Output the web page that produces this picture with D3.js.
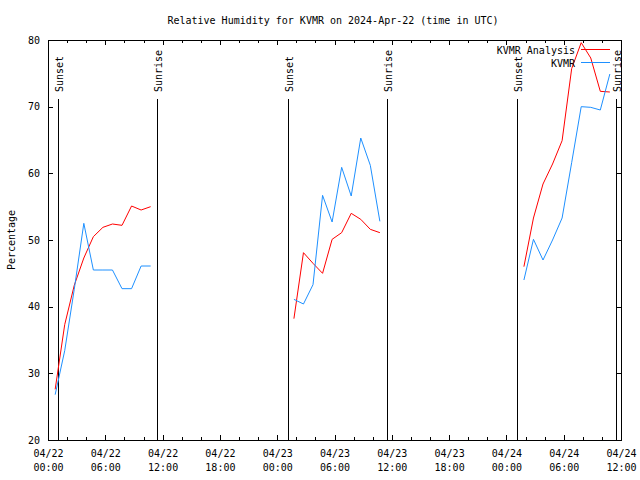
<!DOCTYPE html>
<html>
<head>
<meta charset="utf-8">
<script src="https://cdn.jsdelivr.net/npm/d3@7"></script>
<style>
  body { margin: 0; background: #fff; }
  svg text { font-family: "DejaVu Sans Mono", monospace; font-size: 10px; fill: #000; }
</style>
</head>
<body>
<svg id="chart" width="640" height="480"></svg>
<script>
// ---- data ----
const times1 = ["2024-04-22T00:45Z","2024-04-22T01:45Z","2024-04-22T02:45Z","2024-04-22T03:45Z","2024-04-22T04:45Z","2024-04-22T05:45Z","2024-04-22T06:45Z","2024-04-22T07:45Z","2024-04-22T08:45Z","2024-04-22T09:45Z","2024-04-22T10:45Z"];
const analysis1 = [27.6, 37.3, 43.2, 47.3, 50.5, 51.9, 52.4, 52.2, 55.1, 54.5, 55.0];
const observed1 = [26.8, 33.4, 42.6, 52.5, 45.5, 45.5, 45.5, 42.7, 42.7, 46.1, 46.1];

const times2 = ["2024-04-23T01:45Z","2024-04-23T02:45Z","2024-04-23T03:45Z","2024-04-23T04:45Z","2024-04-23T05:45Z","2024-04-23T06:45Z","2024-04-23T07:45Z","2024-04-23T08:45Z","2024-04-23T09:45Z","2024-04-23T10:45Z"];
const analysis2 = [38.2, 48.1, 46.5, 45.0, 50.1, 51.1, 54.0, 53.1, 51.6, 51.1];
const observed2 = [41.1, 40.4, 43.3, 56.7, 52.7, 60.9, 56.6, 65.3, 61.2, 52.8];

const times3 = ["2024-04-24T01:50Z","2024-04-24T02:50Z","2024-04-24T03:50Z","2024-04-24T04:50Z","2024-04-24T05:50Z","2024-04-24T06:50Z","2024-04-24T07:50Z","2024-04-24T08:50Z","2024-04-24T09:50Z","2024-04-24T10:50Z"];
const analysis3 = [46.0, 53.3, 58.4, 61.4, 64.9, 75.7, 79.6, 77.3, 72.3, 72.2];
const observed3 = [44.0, 50.1, 47.0, 50.0, 53.3, 61.6, 70.0, 69.9, 69.5, 74.9];

const sunTimes  = ["2024-04-22T01:05Z","2024-04-22T11:25Z","2024-04-23T01:07Z","2024-04-23T11:27Z","2024-04-24T01:08Z","2024-04-24T11:29Z"];
const sunLabels = ["Sunset","Sunrise","Sunset","Sunrise","Sunset","Sunrise"];

const yTicks = [20, 30, 40, 50, 60, 70, 80];
const seriesNames = ["KVMR Analysis", "KVMR"];
const titleText = "Relative Humidity for KVMR on 2024-Apr-22 (time in UTC)";
const yLabel = "Percentage";

// ---- layout ----
const L = 48, R = 621, T = 40, B = 440;
const colors = ["#ff0000", "#1e90ff"];

const svg = d3.select("#chart");
const x = d3.scaleUtc()
  .domain([new Date("2024-04-22T00:00Z"), new Date("2024-04-24T12:00Z")])
  .range([L, R]);
const y = d3.scaleLinear().domain([20, 80]).range([B, T]);

const majorTicks = d3.utcHour.every(6).range(x.domain()[0], new Date(x.domain()[1].getTime() + 1));
const minorTicks = d3.utcHour.every(2).range(x.domain()[0], new Date(x.domain()[1].getTime() + 1))
  .filter(d => d.getUTCHours() % 6 !== 0);

const fmtDate = d3.utcFormat("%m/%d");
const fmtTime = d3.utcFormat("%H:%M");

// minor ticks bottom & top
svg.append("g").attr("transform", `translate(0,${B})`)
  .call(d3.axisBottom(x).tickValues(minorTicks).tickSize(-3).tickFormat(""))
  .call(g => g.select(".domain").remove())
  .attr("shape-rendering", "crispEdges");
svg.append("g").attr("transform", `translate(0,${T})`)
  .call(d3.axisTop(x).tickValues(minorTicks).tickSize(-3).tickFormat(""))
  .call(g => g.select(".domain").remove())
  .attr("shape-rendering", "crispEdges");

// major ticks bottom with 2-line labels
const xb = svg.append("g").attr("transform", `translate(0,${B})`)
  .call(d3.axisBottom(x).tickValues(majorTicks).tickSize(-5).tickPadding(0).tickFormat(""))
  .call(g => g.select(".domain").remove())
  .attr("shape-rendering", "crispEdges");
xb.selectAll(".tick text").each(function(d) {
  const t = d3.select(this).attr("y", null).attr("dy", null);
  t.append("tspan").attr("x", 0).attr("y", 17).text(fmtDate(d));
  t.append("tspan").attr("x", 0).attr("y", 31).text(fmtTime(d));
});
xb.selectAll("text").attr("font-family", "DejaVu Sans Mono").attr("font-size", 10).attr("fill", "#000");

svg.append("g").attr("transform", `translate(0,${T})`)
  .call(d3.axisTop(x).tickValues(majorTicks).tickSize(-5).tickFormat(""))
  .call(g => g.select(".domain").remove())
  .attr("shape-rendering", "crispEdges");

// y axes
const yl = svg.append("g").attr("transform", `translate(${L},0)`)
  .call(d3.axisLeft(y).tickValues(yTicks).tickSize(-5).tickPadding(8))
  .call(g => g.select(".domain").remove())
  .attr("shape-rendering", "crispEdges");
yl.selectAll("text").attr("font-family", "DejaVu Sans Mono").attr("font-size", 10).attr("fill", "#000");
svg.append("g").attr("transform", `translate(${R},0)`)
  .call(d3.axisRight(y).tickValues(yTicks).tickSize(-5).tickFormat(""))
  .call(g => g.select(".domain").remove())
  .attr("shape-rendering", "crispEdges");

// frame
svg.append("rect").attr("x", L + 0.5).attr("y", T + 0.5)
  .attr("width", R - L).attr("height", B - T)
  .attr("fill", "none").attr("stroke", "#000").attr("shape-rendering", "crispEdges");

// sun lines
sunTimes.forEach((s, i) => {
  const xx = Math.round(x(new Date(s))) + 0.5;
  svg.append("line").attr("x1", xx).attr("x2", xx).attr("y1", 99).attr("y2", B)
    .attr("stroke", "#000").attr("shape-rendering", "crispEdges");
  svg.append("text").attr("transform", `translate(${xx + 4},92) rotate(-90)`)
    .attr("text-anchor", "start").text(sunLabels[i]);
});

// series
const line = d3.line().x(d => x(d[0])).y(d => y(d[1]));
const segs = [[times1, analysis1, observed1], [times2, analysis2, observed2], [times3, analysis3, observed3]];
segs.forEach(([t, a, o]) => {
  const tt = t.map(s => new Date(s));
  svg.append("path").datum(tt.map((d, i) => [d, a[i]])).attr("d", line)
    .attr("fill", "none").attr("stroke", colors[0]).attr("stroke-width", 1);
  svg.append("path").datum(tt.map((d, i) => [d, o[i]])).attr("d", line)
    .attr("fill", "none").attr("stroke", colors[1]).attr("stroke-width", 1);
});

// legend
seriesNames.forEach((n, i) => {
  const ly = 49.5 + i * 13;
  svg.append("text").attr("x", 575).attr("y", ly + 4).attr("text-anchor", "end").text(n);
  svg.append("line").attr("x1", 581).attr("x2", 610).attr("y1", ly).attr("y2", ly)
    .attr("stroke", colors[i]).attr("shape-rendering", "crispEdges");
});

// title & y label
svg.append("text").attr("x", 333).attr("y", 24).attr("text-anchor", "middle").text(titleText);
svg.append("text").attr("transform", `translate(15,${240}) rotate(-90)`)
  .attr("text-anchor", "middle").text(yLabel);
</script>
</body>
</html>
